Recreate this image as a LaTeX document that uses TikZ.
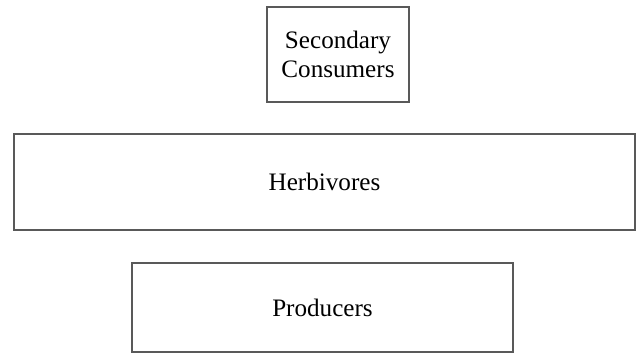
\documentclass[tikz,border=0pt]{standalone}
\usepackage{fontspec}
\setmainfont{Liberation Serif}
\usepackage{tikz}

\begin{document}
\begin{tikzpicture}[
    x=0.02cm, y=-0.02cm,
    level/.style={rectangle, draw=black!65, line width=0.6pt, align=center, inner sep=0pt,
                  font=\fontsize{14.3}{16.5}\selectfont},
]
    \useasboundingbox (0,0) rectangle (636,356);

    \node[level, minimum width=142*0.02cm, minimum height=95*0.02cm] (second) at (338,54.5) {Secondary\\Consumers};
    \node[level, minimum width=621*0.02cm, minimum height=96*0.02cm] (herb) at (324.5,182) {Herbivores};
    \node[level, minimum width=381*0.02cm, minimum height=89*0.02cm] (prod) at (322.5,307.5) {Producers};
\end{tikzpicture}
\end{document}
